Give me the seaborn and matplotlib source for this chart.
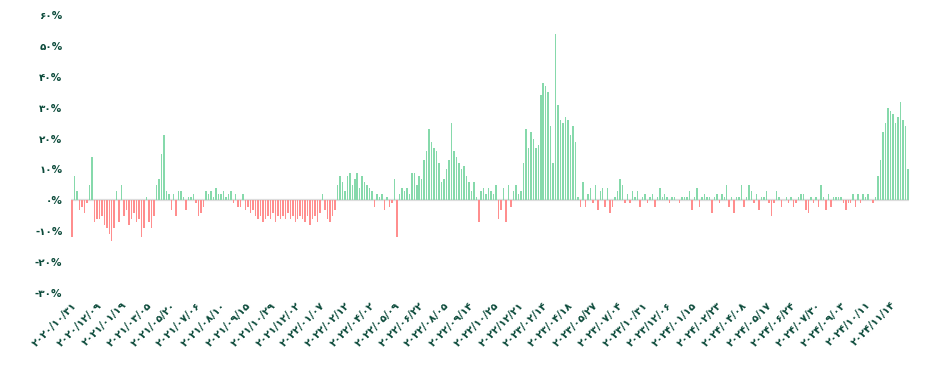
import pandas as pd
import seaborn as sns
import matplotlib.pyplot as plt

# tick dates (shown every 10th bar), written in latin digits, drawn in persian digits
tick_dates = [
    '2020/10/31', '2020/12/09', '2021/01/19', '2021/03/05', '2021/05/20', '2021/07/06',
    '2021/08/10', '2021/09/15', '2021/10/29', '2021/12/02', '2022/01/07', '2022/02/12',
    '2022/04/02', '2022/05/09', '2022/06/22', '2022/08/05', '2022/09/14', '2022/10/25',
    '2022/12/21', '2023/02/14', '2023/04/18', '2023/05/27', '2023/07/04', '2023/10/31',
    '2023/12/06', '2024/01/15', '2024/02/23', '2024/04/08', '2024/05/17', '2024/06/24',
    '2024/07/30', '2024/09/03', '2024/10/11', '2024/11/14',
]

# percent change per bar
returns = [
    -12, 8, 3, -3, -2, -4, -1, 5, 14, -7,
    -6, -6, -5, -8, -9, -11, -13, -9, 3, -7,
    5, -5, -3, -8, -6, -4, -7, -6, -12, -9,
    1, -7, -9, -5, 5, 7, 15, 21, 3, 2,
    -3, 2, -5, 3, 3, 1, -3, 1, 1, 2,
    -1, -5, -4, -2, 3, 2, 3, 1, 4, 2,
    2, 3, 1, 2, 3, -1, 2, -2, -2, 2,
    -3, -2, -4, -3, -5, -6, -5, -7, -6, -5,
    -6, -4, -7, -5, -6, -5, -6, -4, -6, -5,
    -7, -6, -5, -6, -7, -5, -8, -6, -5, -7,
    -4, 2, -3, -6, -7, -5, -3, 5, 8, 6,
    3, 8, 9, 5, 7, 9, 4, 8, 6, 5,
    4, 3, -2, 2, 1, 2, -3, 1, -2, -1,
    7, -12, 2, 4, 3, 4, 2, 9, 9, 5,
    8, 7, 13, 16, 23, 19, 17, 16, 12, 6,
    7, 10, 13, 25, 16, 14, 12, 10, 11, 8,
    6, 3, 6, 1, -7, 3, 4, 2, 4, 3,
    2, 5, -6, -3, 4, -7, 5, -2, 3, 5,
    2, 3, 12, 23, 17, 22, 20, 17, 18, 34,
    38, 37, 35, 24, 12, 54, 31, 26, 25, 27,
    26, 21, 24, 19, 1, -2, 6, -2, 2, 4,
    -1, 5, -3, 3, 4, -2, 4, -4, -2, 1,
    3, 7, 5, -1, 2, -1, 3, 1, 3, -2,
    1, 2, -1, 1, 2, -2, 1, 4, 1, 2,
    1, -1, 1, 1, 0, -1, 1, 1, 1, 3,
    -3, 1, 4, -2, 1, 2, 1, 1, -4, 1,
    2, -1, 2, 1, 5, -2, 1, -4, 1, 1,
    5, -2, 1, 5, 3, -1, 2, -3, 1, 1,
    3, -1, -5, -1, 3, 1, -2, 0, 1, -1,
    1, -2, -1, 1, 2, 2, -3, -4, 1, -1,
    1, -2, 5, 1, -3, 2, -2, 1, 1, 1,
    1, -1, -3, -1, -1, 2, -2, 2, -1, 2,
    1, 2, 0, -1, 1, 8, 13, 22, 25, 30,
    29, 28, 25, 27, 32, 26, 24, 10,
]

fa_digits = str.maketrans('0123456789', '۰۱۲۳۴۵۶۷۸۹')
text_color = '#0b4a3a'
up_color = '#86d9ab'
down_color = '#ff8e8e'

df = pd.DataFrame({'idx': range(len(returns)), 'ret': returns})

sns.set_theme(style='white')
plt.rcParams['font.family'] = ['DejaVu Sans']

fig = plt.figure(figsize=(9.33, 3.67), dpi=100)
ax = fig.add_axes([0.0759, 0.2016, 0.8984, 0.7574])

sns.barplot(data=df, x='idx', y='ret', color=up_color, saturation=1,
            width=0.6, linewidth=0, ax=ax, errorbar=None)
# red for the falling bars
for bar, v in zip(ax.patches, returns):
    bar.set_facecolor(up_color if v >= 0 else down_color)
    bar.set_edgecolor('none')

ax.axhline(0, color='#dddddd', lw=1.6, zorder=0)
ax.set_xlim(-0.5, len(returns) - 0.5)
ax.set_ylim(-30, 60)

yt = list(range(-30, 61, 10))
ax.set_yticks(yt)
ax.set_yticklabels([f'{v}%'.translate(fa_digits) for v in yt])
xt = list(range(0, len(tick_dates) * 10, 10))
ax.set_xticks(xt)
ax.set_xticklabels([d.translate(fa_digits) for d in tick_dates],
                   rotation=45, ha='right', rotation_mode='anchor')

ax.tick_params(axis='y', length=0, pad=6, labelsize=7.5, labelcolor=text_color)
ax.tick_params(axis='x', length=0, pad=5, labelsize=7.5, labelcolor=text_color)
for lab in ax.get_xticklabels() + ax.get_yticklabels():
    lab.set_fontweight('bold')

ax.set_xlabel('')
ax.set_ylabel('')
sns.despine(ax=ax, left=True, bottom=True)

plt.savefig('out.png', dpi=100)
plt.close()
